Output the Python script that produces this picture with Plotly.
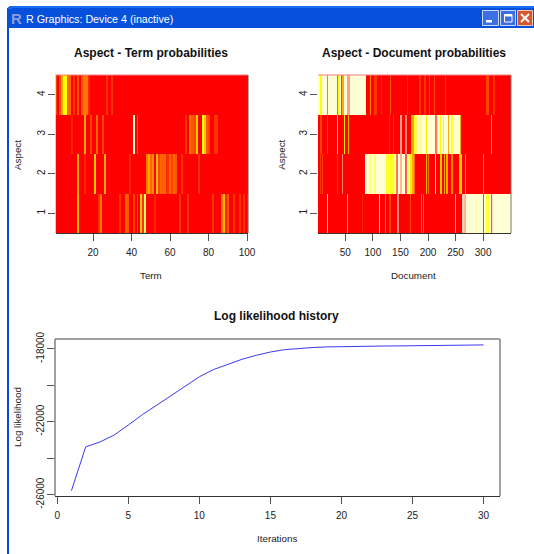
import plotly.graph_objects as go

W, H = 534, 554

# ---------- data ----------
aspects = [1, 2, 3, 4]
term_ids = list(range(1, 101))
doc_ids = list(range(1, 351))

# term -> level (all other terms are 0)
term_a1 = {12: .55, 23: .15, 24: .35, 34: .15, 37: .3, 38: .25, 41: .2, 43: .25, 45: .6, 46: .15, 47: .85,
           52: .1, 65: .15, 69: .15, 82: .15, 87: .35, 88: .55, 89: .1, 90: .25, 93: .15, 96: .15, 98: .15, 100: .15}
term_a2 = {12: .5, 16: .1, 21: .6, 26: .5, 39: .1, 48: .35, 49: .5, 50: .3, 51: .4, 53: .55, 54: .2, 55: .3,
           56: .3, 57: .3, 58: .1, 59: .15, 60: .3, 61: .2, 62: .3, 63: .25, 66: .15, 75: .15}
term_a3 = {9: .1, 16: .5, 19: .2, 22: .3, 25: .2, 41: 1.0, 43: .25, 68: .15, 70: .35, 71: .25, 72: .25, 73: .2,
           74: .6, 77: .75, 78: .6, 79: .25, 80: .2, 83: .15, 84: .15}
term_a4 = {1: .2, 3: .25, 4: .5, 5: .75, 6: .75, 7: .3, 8: .3, 10: .15, 12: .25, 14: .25, 15: .35, 16: .35,
           17: .35, 18: .1, 27: .15, 30: .15}

# (first doc, last doc, level); later runs overwrite earlier ones.
# levels 0-1 follow the heat palette; 1-2 are pale-to-red blends of adjacent documents
doc_a1 = [(17, 18, .7), (53, 54, 1.4), (81, 82, .1), (111, 112, .7), (123, 124, 1.6), (130, 132, .2),
          (145, 147, 1.5), (167, 168, .2), (187, 188, .35), (191, 192, .35), (250, 251, .55),
          (262, 264, 1.2), (265, 268, 1.3), (269, 350, 1.0), (285, 288, .95), (300, 301, 1.8),
          (305, 306, .8), (307, 308, .92), (310, 311, .8), (315, 316, 1.7), (317, 318, 1.15)]
doc_a2 = [(5, 6, .15), (8, 9, .2), (35, 36, .15), (44, 46, 1.5), (87, 176, 1.0), (94, 97, .88), (103, 106, .88),
          (124, 128, .8), (129, 130, .95), (131, 137, .78), (138, 140, .9), (143, 145, 1.6), (149, 153, 1.3),
          (159, 161, 1.7), (164, 166, .9), (167, 170, .7),
          (171, 174, .5), (175, 176, .3), (196, 197, .5), (200, 201, .3), (213, 214, .75), (223, 224, .6),
          (229, 230, .5), (234, 235, .5), (243, 244, .4), (256, 259, .6), (261, 262, .6), (267, 268, 1.5),
          (300, 301, 1.6)]
doc_a3 = [(5, 8, .2), (17, 18, .2), (35, 36, .65), (48, 49, .7), (55, 57, .5), (129, 130, .1), (137, 138, .15),
          (149, 152, 1.4), (159, 161, 1.5), (169, 174, .5), (175, 177, .8), (178, 260, 1.0), (179, 182, .85),
          (185, 188, .9), (196, 197, .7), (213, 215, 1.6), (216, 218, .8), (222, 223, .75), (227, 228, .75),
          (236, 237, .5), (243, 245, .8), (258, 260, .5), (315, 316, 1.5)]
doc_a4 = [(1, 87, 1.0), (5, 8, .75), (17, 19, 1.6), (35, 37, 1.7), (38, 39, .75), (43, 45, 1.8), (45, 47, .5),
          (53, 58, 1.4), (96, 97, .4), (103, 107, .15), (115, 116, .1), (132, 133, .25), (163, 164, .1),
          (185, 186, .15), (194, 195, .15), (202, 203, .2), (212, 213, .2), (232, 233, .15), (306, 310, .2),
          (318, 321, .15)]

iterations = list(range(1, 31))
log_likelihood = [-25780, -23380, -23110, -22730, -22180, -21600, -21090, -20580, -20040, -19530,
                  -19130, -18830, -18570, -18350, -18170, -18040, -17970, -17920, -17890, -17870,
                  -17860, -17850, -17840, -17835, -17830, -17820, -17810, -17800, -17790, -17780]

term_ticks = [20, 40, 60, 80, 100]
doc_ticks = [50, 100, 150, 200, 250, 300]
ll_x_ticks = [0, 5, 10, 15, 20, 25, 30]
ll_y_ticks = [-26000, -24000, -22000, -20000, -18000]
ll_y_labels = ["-26000", "", "-22000", "", "-18000"]

# ---------- build matrices ----------
z_terms = [[row.get(t, 0) for t in term_ids] for row in (term_a1, term_a2, term_a3, term_a4)]


def doc_row(runs):
    row = {d: 0 for d in doc_ids}
    for first, last, level in runs:
        for d in range(first, last + 1):
            row[d] = level
    return [row[d] for d in doc_ids]


z_docs = [doc_row(r) for r in (doc_a1, doc_a2, doc_a3, doc_a4)]

HEAT = [[0, "#FF0000"], [.375, "#FFFF00"], [.5, "#FFFFD5"], [1, "#FF1010"]]
FONT = "Liberation Sans, Arial, sans-serif"
DARK = "#333333"
GRAY = "#808080"


def dx(px0, px1):
    return [px0 / W, px1 / W]


def dy(py0, py1):
    return [1 - py1 / H, 1 - py0 / H]


fig = go.Figure()
fig.add_trace(go.Heatmap(x=term_ids, y=aspects, z=z_terms, colorscale=HEAT, zmin=0, zmax=2, showscale=False,
                         xaxis="x", yaxis="y", hoverinfo="skip"))
fig.add_trace(go.Heatmap(x=doc_ids, y=aspects, z=z_docs, colorscale=HEAT, zmin=0, zmax=2, showscale=False,
                         xaxis="x2", yaxis="y2", hoverinfo="skip"))
fig.add_trace(go.Scatter(x=iterations, y=log_likelihood, mode="lines", line=dict(color="#3A3AF0", width=1),
                         xaxis="x3", yaxis="y3", hoverinfo="skip"))

tick = dict(ticks="outside", ticklen=7, tickwidth=1, tickcolor="#555555", showgrid=False, zeroline=False,
            automargin=False, tickfont=dict(family=FONT, size=10, color="#222222"))


def xa(domain, rng, vals, anchor):
    return dict(domain=domain, range=rng, tickvals=vals, anchor=anchor, showline=True, linecolor=DARK, linewidth=1,
                ticklabelstandoff=3, **tick)


def ya(domain, rng, vals, labels, anchor):
    return dict(domain=domain, range=rng, tickvals=vals, ticktext=labels, tickangle=-90, anchor=anchor,
                showline=False, ticklabelstandoff=-1, **tick)


box = dict(x=dx(55.5, 248), y=dy(75, 233))
box2 = dict(x=dx(318, 511), y=dy(75, 233))
box3 = dict(x=dx(55, 500), y=dy(339, 496))
asp = [str(a) for a in aspects]

fig.update_layout(
    width=W, height=H, margin=dict(l=0, r=0, t=0, b=0), paper_bgcolor="white", plot_bgcolor="white",
    showlegend=False,
    xaxis=xa(box["x"], [0.5, 100.5], term_ticks, "y"),
    yaxis=ya(box["y"], [0.5, 4.5], aspects, asp, "x"),
    xaxis2=xa(box2["x"], [0.5, 350.5], doc_ticks, "y2"),
    yaxis2=ya(box2["y"], [0.5, 4.5], aspects, asp, "x2"),
    xaxis3=xa(box3["x"], [-0.16, 31.16], ll_x_ticks, "y3"),
    yaxis3=ya(box3["y"], [-26075, -17455], ll_y_ticks, ll_y_labels, "x3"),
)


def rect(x0, y0, x1, y1, fill, line=None, lw=0):
    return dict(type="rect", xref="paper", yref="paper", x0=x0 / W, x1=x1 / W, y0=1 - y0 / H, y1=1 - y1 / H,
                fillcolor=fill, line=dict(color=line or fill, width=lw), layer="above")


def seg(x0, y0, x1, y1, color, lw=1):
    return dict(type="line", xref="paper", yref="paper", x0=x0 / W, x1=x1 / W, y0=1 - y0 / H, y1=1 - y1 / H,
                line=dict(color=color, width=lw), layer="above")


shapes = [
    # window frame
    rect(7, 28, 9, H, "#0A46E6"),
    rect(9, 6, W, 8, "#1C6CF0"),
    rect(7, 8, W, 28, "#0650DC"),
    rect(8, 7, 12, 9, "#1C6CF0"),
    # minimise / maximise / close buttons
    rect(482.5, 10.5, 498.5, 25.5, "#3C6FE4", "#C8D8F8", 1),
    rect(486, 20, 492, 22.5, "white"),
    rect(500.5, 10.5, 515.5, 25.5, "#3C6FE4", "#C8D8F8", 1),
    rect(504.5, 14.5, 512, 22, "rgba(0,0,0,0)", "white", 1),
    seg(504.5, 15.5, 512, 15.5, "white", 2),
    rect(517.5, 10.5, 532.5, 25.5, "#D8562E", "#F0C8B8", 1),
    seg(521, 14, 529, 22, "white", 2),
    seg(529, 14, 521, 22, "white", 2),
    # plot boxes
    seg(55.5, 75, 248, 75, "#F08080"),
    seg(248, 75, 248, 233, "#555555"),
    seg(318, 75, 511, 75, "#F08080"),
    seg(511, 75, 511, 233, "#777777"),
    seg(55, 339, 500, 339, GRAY, 1.5),
    seg(55, 339, 55, 496, GRAY, 1.5),
    seg(500, 339, 500, 496, GRAY, 1.5),
]


def label(text, xc, yc, size=9.8, angle=0, color="#222222", anchor="center"):
    return dict(text=text, xref="paper", yref="paper", x=xc / W, y=1 - yc / H, showarrow=False, xanchor=anchor,
                yanchor="middle", textangle=angle, font=dict(family=FONT, size=size, color=color))


annotations = [
    label("<b>Aspect - Term probabilities</b>", 151, 53, 12, color="#111111"),
    label("<b>Aspect - Document probabilities</b>", 414, 53, 12, color="#111111"),
    label("<b>Log likelihood history</b>", 276.5, 316, 12, color="#111111"),
    label("Term", 151, 275),
    label("Document", 413.7, 275),
    label("Iterations", 276.5, 538),
    label("Aspect", 17, 155, angle=-90),
    label("Aspect", 280.7, 155, angle=-90),
    label("Log likelihood", 17, 417, angle=-90),
    label("<b>R</b>", 16.5, 18, 15, color="#8C9CD8"),
    label("R Graphics: Device 4 (inactive)", 24, 19, 10.7, color="white", anchor="left"),
]
fig.update_layout(shapes=shapes, annotations=annotations)

fig.write_html("out.html", config=dict(displayModeBar=False))
page = open("out.html", encoding="utf-8").read()
page = page.replace("<body>", '<body style="margin:0;padding:0;overflow:hidden">', 1)
open("out.html", "w", encoding="utf-8").write(page)
